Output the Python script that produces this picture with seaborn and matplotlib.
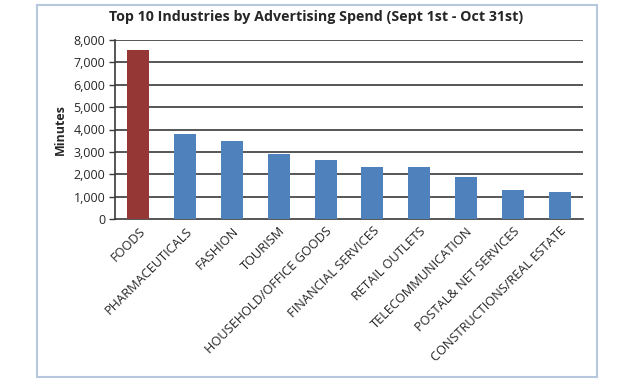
import matplotlib
matplotlib.use("Agg")
import matplotlib.pyplot as plt
import seaborn as sns
import pandas as pd
from matplotlib.patches import Rectangle

# Daten
industries = ["FOODS", "PHARMACEUTICALS", "FASHION", "TOURISM", "HOUSEHOLD/OFFICE GOODS",
              "FINANCIAL SERVICES", "RETAIL OUTLETS", "TELECOMMUNICATION",
              "POSTAL& NET SERVICES", "CONSTRUCTIONS/REAL ESTATE"]
minutes = [7550, 3800, 3480, 2900, 2620, 2320, 2310, 1880, 1300, 1220]
yticks = [0, 1000, 2000, 3000, 4000, 5000, 6000, 7000, 8000]

df = pd.DataFrame({"industry": industries, "minutes": minutes})

sns.set_style("white")
plt.rcParams["font.family"] = ["Open Sans", "DejaVu Sans"]

fig = plt.figure(figsize=(6.32, 3.8), dpi=100)
ax = fig.add_axes([115 / 632, 1 - 219 / 380, (583 - 115) / 632, (219 - 40) / 380])

colors = ["#953735"] + ["#4F81BD"] * (len(industries) - 1)
sns.barplot(data=df, x="industry", y="minutes", hue="industry", palette=colors,
            legend=False, width=0.47, saturation=1, linewidth=0, ax=ax, zorder=3)

ax.set_ylim(0, 8000)
ax.set_xlim(-0.5, len(industries) - 0.5)
ax.set_yticks(yticks)
ax.set_yticklabels([f"{v:,}" for v in yticks], fontsize=9)
for v in yticks[1:]:
    ax.axhline(v, color="#3a3a3a", lw=1.2, zorder=1)

ax.set_xticks(range(len(industries)))
ax.set_xticklabels(industries, rotation=45, ha="right", rotation_mode="anchor", fontsize=9.2)
ax.tick_params(axis="x", length=0, pad=4)
ax.tick_params(axis="y", length=4, width=1, color="#3a3a3a", left=True, pad=3)

ax.set_xlabel("")
ax.set_ylabel("Minutes", fontsize=9, fontweight="bold", labelpad=5)

for side in ["top", "right"]:
    ax.spines[side].set_visible(False)
for side in ["left", "bottom"]:
    ax.spines[side].set_color("#3a3a3a")
    ax.spines[side].set_linewidth(1.2)

fig.text(0.5, 1 - 17 / 380, "Top 10 Industries by Advertising Spend (Sept 1st - Oct 31st)",
         ha="center", va="center", fontsize=10.3, fontweight="bold")

# Rahmen um das Diagramm
fig.patches.append(Rectangle((37 / 632, 3 / 380), (597 - 37) / 632, (375 - 3) / 380,
                             transform=fig.transFigure, fill=False,
                             edgecolor="#B7C7DD", lw=1.5))

fig.savefig("out.png", dpi=100)
